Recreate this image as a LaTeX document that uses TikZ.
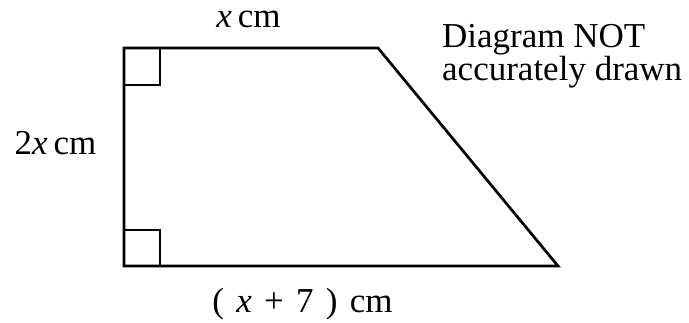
\documentclass[tikz,border=0pt]{standalone}
\usepackage{fontspec}
\setmainfont{Liberation Serif}
\begin{document}
\begin{tikzpicture}[x=1pt,y=1pt,
  edge/.style={line width=2.7pt,line join=miter,line cap=rect},
  lbl/.style={font=\fontsize{35}{33}\selectfont,inner sep=0pt,anchor=base},
  note/.style={font=\fontsize{35}{33}\selectfont,inner sep=0pt,anchor=base west}]
\useasboundingbox (0,0) rectangle (689,323);
\coordinate (A) at (124,275);
\coordinate (B) at (378,275);
\coordinate (C) at (558,57);
\coordinate (D) at (124,57);
\draw[edge] (A) -- (B) -- (C) -- (D) -- cycle;
\coordinate (s1a) at (160,275);
\coordinate (s1b) at (160,238);
\coordinate (s1c) at (124,238);
\draw[edge] (s1a) -- (s1b) -- (s1c);
\coordinate (s2a) at (124,93);
\coordinate (s2b) at (160,93);
\coordinate (s2c) at (160,57);
\draw[edge] (s2a) -- (s2b) -- (s2c);
\node[lbl] (top) at (248.5,295) {\textit{x}\,cm};
\node[lbl] (left) at (55.5,168) {2\textit{x}\,cm};
\node[lbl] (bottom) at (302.5,10) {(\hspace{0.35em}\textit{x}\hspace{0.35em}+\hspace{0.35em}7\hspace{0.35em})\hspace{0.35em}cm};
\node[note] (noteA) at (442,275) {Diagram NOT};
\node[note] (noteB) at (442,242) {accurately drawn};
\end{tikzpicture}
\end{document}
